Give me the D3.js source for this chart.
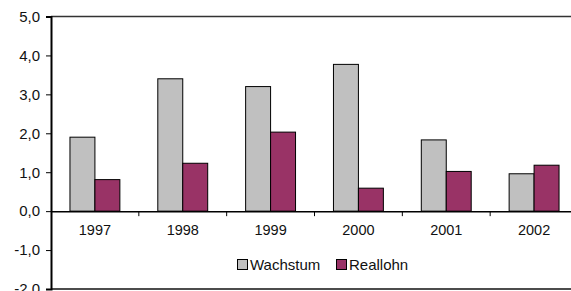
<!DOCTYPE html>
<html>
<head>
<meta charset="utf-8">
<script src="https://cdn.jsdelivr.net/npm/d3@7"></script>
<style>
  body { margin: 0; background: #fff; }
  text { font-family: "Liberation Sans", Arial, sans-serif; }
</style>
</head>
<body>
<div id="chart-area"></div>
<script>
// data
const years = ["1997", "1998", "1999", "2000", "2001", "2002"]
const wachstum = [1.9, 3.4, 3.2, 3.77, 1.83, 0.96]
const reallohn = [0.81, 1.23, 2.03, 0.59, 1.02, 1.18]
const seriesNames = ["Wachstum", "Reallohn"]
const yTicks = [-2, -1, 0, 1, 2, 3, 4, 5]

const colors = { Wachstum: "#c0c0c0", Reallohn: "#993366" }

const svgWidth = 571
const svgHeight = 291
const margin = { left: 51, right: -7, top: 16.5, bottom: 2 }
const chartWidth = svgWidth - margin.left - margin.right
const chartHeight = svgHeight - margin.top - margin.bottom

const svg = d3.select("#chart-area")
  .append("svg")
  .attr("width", svgWidth)
  .attr("height", svgHeight)

const chart = svg.append("g")
  .attr("transform", `translate(${margin.left},${margin.top})`)

const xScale = d3.scaleBand()
  .domain(years)
  .range([0, chartWidth])

const innerScale = d3.scaleBand()
  .domain(seriesNames)
  .range([0, xScale.bandwidth()])
  .paddingInner(0)
  .paddingOuter(0.76)

const yScale = d3.scaleLinear()
  .domain([-2, 5])
  .range([chartHeight, 0])

const fmt = d => d3.format(".1f")(d).replace(".", ",").replace("−", "-")

// frame: top and bottom lines
chart.append("line")
  .attr("x1", 0).attr("x2", chartWidth)
  .attr("y1", 0).attr("y2", 0)
  .attr("stroke", "#333").attr("stroke-width", 1.5)
chart.append("line")
  .attr("x1", 0).attr("x2", chartWidth)
  .attr("y1", chartHeight).attr("y2", chartHeight)
  .attr("stroke", "#111").attr("stroke-width", 1.5)

// bars
const rows = years.map((y, i) => ({ year: y, values: [
  { key: "Wachstum", value: wachstum[i] },
  { key: "Reallohn", value: reallohn[i] }
]}))

chart.selectAll(".group")
  .data(rows)
  .join("g")
  .attr("class", "group")
  .attr("transform", d => `translate(${xScale(d.year)},0)`)
  .selectAll("rect")
  .data(d => d.values)
  .join("rect")
  .attr("x", d => innerScale(d.key))
  .attr("width", innerScale.bandwidth())
  .attr("y", d => yScale(Math.max(0, d.value)))
  .attr("height", d => Math.abs(yScale(d.value) - yScale(0)))
  .attr("fill", d => colors[d.key])
  .attr("stroke", "#000")
  .attr("stroke-width", 1)

// y axis
const yAxis = chart.append("g")
  .call(d3.axisLeft(yScale).tickValues(yTicks).tickFormat(fmt).tickSize(5).tickPadding(6))
yAxis.select(".domain").attr("stroke", "#000").attr("stroke-width", 2)
yAxis.selectAll(".tick line").attr("stroke", "#000")
yAxis.selectAll("text").attr("font-size", 15).attr("fill", "#111")

// x axis at zero
const xAxis = chart.append("g")
  .attr("transform", `translate(0,${yScale(0)})`)
  .call(d3.axisBottom(xScale).tickSize(0).tickPadding(14))
xAxis.select(".domain").attr("stroke", "#000").attr("stroke-width", 1.5)
xAxis.selectAll("text").attr("font-size", 14.5).attr("fill", "#111")

// category boundary ticks
chart.append("g")
  .selectAll("line")
  .data(years.slice(1))
  .join("line")
  .attr("x1", d => xScale(d)).attr("x2", d => xScale(d))
  .attr("y1", yScale(0)).attr("y2", yScale(0) + 5)
  .attr("stroke", "#000")

// legend
const legend = svg.append("g")
  .attr("transform", "translate(237.5,259.5)")
const legendItems = legend.selectAll("g")
  .data(seriesNames)
  .join("g")
  .attr("transform", (d, i) => `translate(${i * 99},0)`)
legendItems.append("rect")
  .attr("width", 10).attr("height", 10)
  .attr("fill", d => colors[d])
  .attr("stroke", "#000")
legendItems.append("text")
  .attr("x", 12.5).attr("y", 10)
  .attr("font-size", 15)
  .attr("fill", "#111")
  .text(d => d)
</script>
</body>
</html>
